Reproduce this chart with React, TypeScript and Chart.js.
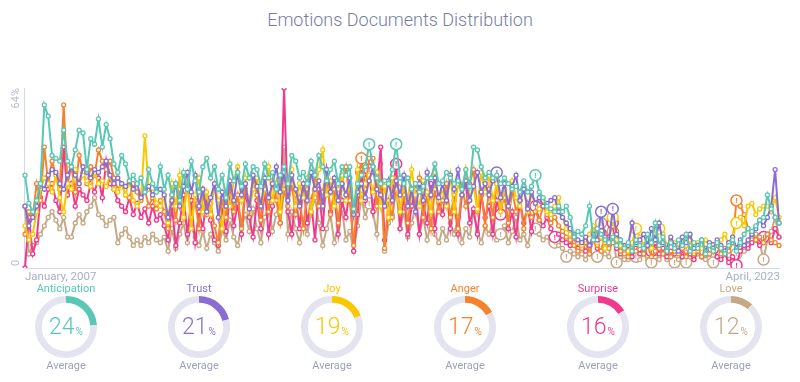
import React, { useEffect, useRef } from "react";
import { Chart, registerables } from "chart.js";
Chart.register(...registerables);

const MONTH_NAMES = ["January","February","March","April","May","June","July","August","September","October","November","December"];
const START_YEAR = 2007;
const END_YEAR = 2023;
const END_MONTH = 3; // April
const categories: string[] = [];
for (let y = START_YEAR; y <= END_YEAR; y++) {
  for (let m = 0; m < 12; m++) {
    if (y === END_YEAR && m > END_MONTH) break;
    categories.push(`${MONTH_NAMES[m]}, ${y}`);
  }
}

const seriesNames = ["Anticipation", "Trust", "Joy", "Anger", "Surprise", "Love"];
const seriesColors = ["#58c7b3", "#8a6dd3", "#f8c800", "#f5832e", "#ef3a8d", "#c5a985"];
const averages = [24, 21, 19, 17, 16, 12];
const yTickLabels = ["0", "64%"];
const yMax = 64;

const anticipation = [
  33,23,20,24,30,58,54,40,39,38,49,38,
  36,42,49,48,35,46,44,53,43,51,46,37,
  34,40,37,31,33,30,32,27,35,30,27,36,
  28,33,26,30,24,34,28,38,31,27,36,39,
  32,36,28,33,25,37,31,34,29,37,32,36,
  35,29,37,32,34,28,33,36,30,40,38,32,
  34,30,38,33,40,36,31,35,38,30,36,33,
  36,21,30,33,36,44,36,32,30,31,30,35,
  44,32,30,32,28,30,27,29,32,32,37,30,
  31,34,32,30,31,28,35,29,43,42,36,32,
  34,32,33,30,32,30,28,29,27,31,27,29,
  33,27,25,22,21,20,22,20,22,18,11,13,
  12,15,22,10,14,12,10,9,11,8,10,7,
  9,6,10,8,7,12,9,16,8,11,6,9,
  7,10,8,12,6,9,7,10,5,8,6,9,
  7,5,8,10,6,9,12,14,13,15,17,18,
  26,21,18,16,
];
const trust = [
  22,15,18,22,30,28,33,35,34,30,28,33,
  36,33,30,36,34,32,35,34,36,38,33,30,
  32,30,29,31,28,30,25,27,29,26,28,28,
  26,18,24,30,22,29,34,27,33,22,28,20,
  25,30,18,27,22,31,24,34,26,30,21,33,
  29,22,32,25,30,36,27,34,24,33,28,22,
  30,24,34,28,31,22,35,27,32,24,30,26,
  32,19,27,30,25,31,36,28,26,22,31,24,
  31,26,33,22,28,20,30,24,34,26,32,25,
  30,24,33,28,35,26,31,24,29,34,27,30,
  26,31,34,25,30,22,29,33,24,28,21,27,
  23,25,22,23,24,25,20,18,16,14,12,10,
  9,11,8,12,10,20,11,9,21,12,10,7,
  8,16,9,10,12,8,14,10,16,9,7,11,
  8,6,11,9,12,7,8,10,6,9,7,10,
  8,6,9,11,7,10,8,10,12,14,17,15,
  18,22,35,16,
];
const joy = [
  15,10,12,20,28,32,30,27,33,25,20,30,
  28,35,30,33,31,29,34,30,31,29,33,28,
  27,30,26,31,24,22,25,47,28,27,23,22,
  25,16,30,22,33,18,30,14,26,32,20,27,
  19,30,24,14,27,22,31,36,24,32,20,28,
  32,22,28,36,24,30,20,33,27,35,22,30,
  25,32,20,28,35,42,26,31,22,28,33,24,
  30,19,35,24,30,33,27,34,22,29,18,32,
  28,20,30,24,35,26,22,31,27,20,34,24,
  28,22,33,20,30,26,35,24,29,21,34,27,
  33,24,30,20,28,23,31,25,22,29,20,26,
  23,21,24,20,19,22,25,18,14,12,11,9,
  8,10,12,15,9,11,7,10,18,10,8,7,
  6,9,14,11,8,10,7,10,14,12,8,10,
  9,7,11,8,10,6,9,7,10,8,6,9,
  10,12,8,11,16,18,15,22,23,19,21,22,
  22,20,25,18,
];
const anger = [
  12,20,18,30,24,43,30,38,33,28,58,30,
  36,27,40,34,30,36,33,42,38,35,38,32,
  28,30,26,25,30,27,24,28,22,25,21,24,
  20,14,26,17,28,21,30,18,24,14,27,19,
  23,15,9,25,18,29,20,26,14,30,22,32,
  26,17,29,20,31,24,16,28,22,30,19,25,
  14,28,20,33,22,27,35,19,28,16,30,36,
  24,8,26,39,28,39,39,22,30,7,24,18,
  30,20,26,16,28,22,32,18,26,14,28,20,
  24,30,18,26,14,29,22,30,35,20,27,15,
  28,18,30,22,25,16,28,20,24,14,23,18,
  20,17,22,19,16,18,15,13,11,10,8,6,
  7,9,5,10,8,6,12,7,9,13,6,5,
  4,7,6,9,5,8,4,6,7,5,8,4,
  6,5,7,4,8,5,6,4,7,5,6,8,
  5,7,6,9,24,22,19,14,12,10,11,9,
  12,10,9,8,
];
const surprise = [
  0,18,5,10,25,22,28,30,24,20,43,26,
  30,22,28,26,24,30,27,32,25,38,30,28,
  24,22,20,25,19,23,18,21,16,22,17,19,
  15,10,22,8,16,26,12,24,9,20,14,25,
  17,10,8,22,13,26,15,23,12,28,18,11,
  24,14,28,12,22,30,16,64,20,12,26,14,
  30,16,24,10,28,14,33,20,26,12,24,18,
  28,6,19,34,24,35,20,28,43,10,18,26,
  37,14,26,12,22,28,12,23,16,30,14,24,
  19,28,14,24,12,26,30,16,21,12,26,18,
  22,12,24,19,28,14,20,11,24,16,22,13,
  22,17,15,18,14,11,12,10,9,8,11,7,
  9,6,8,10,7,12,9,11,16,7,5,8,
  6,4,7,5,8,6,6,9,5,7,4,6,
  5,7,4,7,5,3,6,4,5,6,7,4,
  3,5,2,4,1,6,8,7,9,10,8,11,
  12,9,14,11,
];
const love = [
  22,5,8,9,12,15,18,20,17,14,18,11,
  11,16,19,16,20,22,25,19,18,15,17,18,
  9,12,14,11,8,10,8,11,9,12,10,9,
  11,6,14,7,12,16,9,15,11,8,13,7,
  12,9,6,14,10,17,11,8,15,19,13,21,
  14,9,18,22,13,19,24,43,12,20,14,9,
  17,12,20,25,16,8,14,19,9,15,21,10,
  13,6,15,25,18,23,20,12,37,6,16,19,
  28,14,20,11,16,22,12,18,10,16,12,9,
  14,10,16,12,18,9,14,11,20,13,9,15,
  12,16,10,12,15,9,13,18,10,12,8,14,
  14,12,10,11,9,9,8,7,4,6,5,4,
  5,3,6,4,4,16,5,4,13,2,4,3,
  3,4,4,3,5,3,2,4,3,5,3,4,
  2,3,5,2,4,3,5,4,3,5,2,4,
  4,6,3,5,5,7,6,8,10,12,9,3,
  10,13,18,11,
];

const anticipationAlerts = [89, 96, 132];
const trustAlerts = [122, 149, 152];
const joyAlerts = [152, 158, 164, 184];
const angerAlerts = [87, 184];
const surpriseAlerts = [87, 89, 96, 123, 132, 137, 149, 152, 162, 171, 178, 184, 191];
const loveAlerts = [87, 89, 96, 123, 132, 137, 140, 148, 149, 152, 153, 158, 162, 168, 171, 178, 184, 191];

const seriesData = [anticipation, trust, joy, anger, surprise, love];
const seriesAlerts = [anticipationAlerts, trustAlerts, joyAlerts, angerAlerts, surpriseAlerts, loveAlerts];

const FONT = "Roboto, 'Noto Sans', sans-serif";

const decorPlugin = {
  id: "decor",
  beforeDatasetsDraw(chart: any) {
    const { ctx, chartArea: a } = chart;
    const ys = chart.scales.y;
    ctx.save();
    ctx.strokeStyle = "#d4d7ea";
    ctx.lineWidth = 1;
    ctx.beginPath();
    ctx.moveTo(a.left - 0.5, a.top);
    ctx.lineTo(a.left - 0.5, a.bottom + 0.5);
    ctx.lineTo(a.right + 1, a.bottom + 0.5);
    ctx.stroke();
    ctx.fillStyle = "#b9bed3";
    ctx.font = `11px ${FONT}`;
    ctx.textBaseline = "middle";
    const topY = ys.getPixelForValue(yMax);
    const botY = ys.getPixelForValue(0);
    ctx.save();
    ctx.translate(a.left - 9, topY);
    ctx.rotate(-Math.PI / 2);
    ctx.textAlign = "right";
    ctx.fillText(yTickLabels[1], 0, 0);
    ctx.restore();
    ctx.save();
    ctx.translate(a.left - 9, botY - 2);
    ctx.rotate(-Math.PI / 2);
    ctx.textAlign = "left";
    ctx.fillText(yTickLabels[0], 0, 0);
    ctx.restore();
    ctx.font = `11.5px ${FONT}`;
    ctx.fillStyle = "#a9afc6";
    ctx.textAlign = "left";
    ctx.fillText(categories[0], a.left, a.bottom + 9);
    ctx.textAlign = "right";
    ctx.fillText(categories[categories.length - 1], a.right + 1, a.bottom + 9);
    ctx.restore();
  },
  afterDatasetDraw(chart: any, args: any) {
    const idx = args.index;
    const alerts = seriesAlerts[idx];
    const meta = args.meta;
    const { ctx } = chart;
    ctx.save();
    ctx.fillStyle = seriesColors[idx];
    ctx.font = `bold 8px ${FONT}`;
    ctx.textAlign = "center";
    ctx.textBaseline = "middle";
    alerts.forEach((i) => {
      const p = meta.data[i];
      if (p) ctx.fillText("!", p.x, p.y + 0.5);
    });
    ctx.restore();
  },
};

function LineChart() {
  const ref = useRef<HTMLCanvasElement>(null);
  useEffect(() => {
    if (!ref.current) return;
    const chart = new Chart(ref.current, {
      type: "line",
      data: {
        labels: categories,
        datasets: seriesData.map((d, k) => {
          const set = new Set(seriesAlerts[k]);
          return {
            label: seriesNames[k],
            data: d,
            borderColor: seriesColors[k],
            backgroundColor: "#ffffff",
            borderWidth: 2,
            tension: 0,
            pointRadius: d.map((_, i) => (set.has(i) ? 5.5 : 2)),
            pointBorderWidth: d.map((_, i) => (set.has(i) ? 1.5 : 1.3)),
            pointBackgroundColor: "#ffffff",
            pointBorderColor: seriesColors[k],
            fill: false,
          };
        }),
      },
      options: {
        animation: false,
        responsive: true,
        maintainAspectRatio: false,
        events: [],
        layout: { autoPadding: false, padding: { left: 25, right: 21, top: 88, bottom: 22 } },
        plugins: { legend: { display: false }, tooltip: { enabled: false }, title: { display: false } },
        scales: {
          x: { display: false, offset: false },
          y: { display: false, min: 0, max: yMax },
        },
      },
      plugins: [decorPlugin],
    } as any);
    return () => chart.destroy();
  }, []);
  return (
    <div style={{ position: "absolute", left: 0, top: 0, width: 800, height: 290 }}>
      <canvas ref={ref} />
    </div>
  );
}

function Gauge({ name, value, color, cx }: { name: string; value: number; color: string; cx: number }) {
  const ref = useRef<HTMLCanvasElement>(null);
  useEffect(() => {
    if (!ref.current) return;
    const chart = new Chart(ref.current, {
      type: "doughnut",
      data: {
        labels: [name, ""],
        datasets: [{ data: [value, 100 - value], backgroundColor: [color, "#e4e4f0"], borderWidth: 0 }],
      },
      options: {
        animation: false,
        responsive: true,
        maintainAspectRatio: false,
        events: [],
        cutout: "78%",
        layout: { padding: 0 },
        plugins: { legend: { display: false }, tooltip: { enabled: false } },
      },
    } as any);
    return () => chart.destroy();
  }, []);
  const size = 62;
  return (
    <>
      <div style={{ position: "absolute", left: cx - 60, top: 282, width: 120, height: 14, lineHeight: "14px", textAlign: "center", color, fontSize: 11, fontFamily: FONT }}>{name}</div>
      <div style={{ position: "absolute", left: cx - size / 2, top: 327 - size / 2, width: size, height: size }}>
        <canvas ref={ref} />
      </div>
      <div style={{ position: "absolute", left: cx - size / 2, top: 327 - size / 2 - 1, width: size, height: size, display: "flex", alignItems: "center", justifyContent: "center", color, fontFamily: FONT, lineHeight: 1 }}>
        <span style={{ fontSize: 23, fontWeight: 300 }}>{value}</span>
        <span style={{ fontSize: 10, marginLeft: 1, alignSelf: "flex-end", marginBottom: 20 }}>%</span>
      </div>
      <div style={{ position: "absolute", left: cx - 60, top: 359, width: 120, height: 14, lineHeight: "14px", textAlign: "center", color: "#9ca2ba", fontSize: 11, fontFamily: FONT }}>Average</div>
    </>
  );
}

export default function App() {
  const centers = [66, 199, 332, 465, 598, 731];
  return (
    <div style={{ position: "absolute", left: 0, top: 0, width: 800, height: 382, background: "#ffffff", overflow: "hidden" }}>
      <div style={{ position: "absolute", left: 0, top: 8, width: 800, textAlign: "center", fontFamily: FONT, fontWeight: 300, fontSize: 18, color: "#737ea3", lineHeight: "24px" }}>
        Emotions Documents Distribution
      </div>
      <LineChart />
      {seriesNames.map((n, k) => (
        <Gauge key={n} name={n} value={averages[k]} color={seriesColors[k]} cx={centers[k]} />
      ))}
    </div>
  );
}
